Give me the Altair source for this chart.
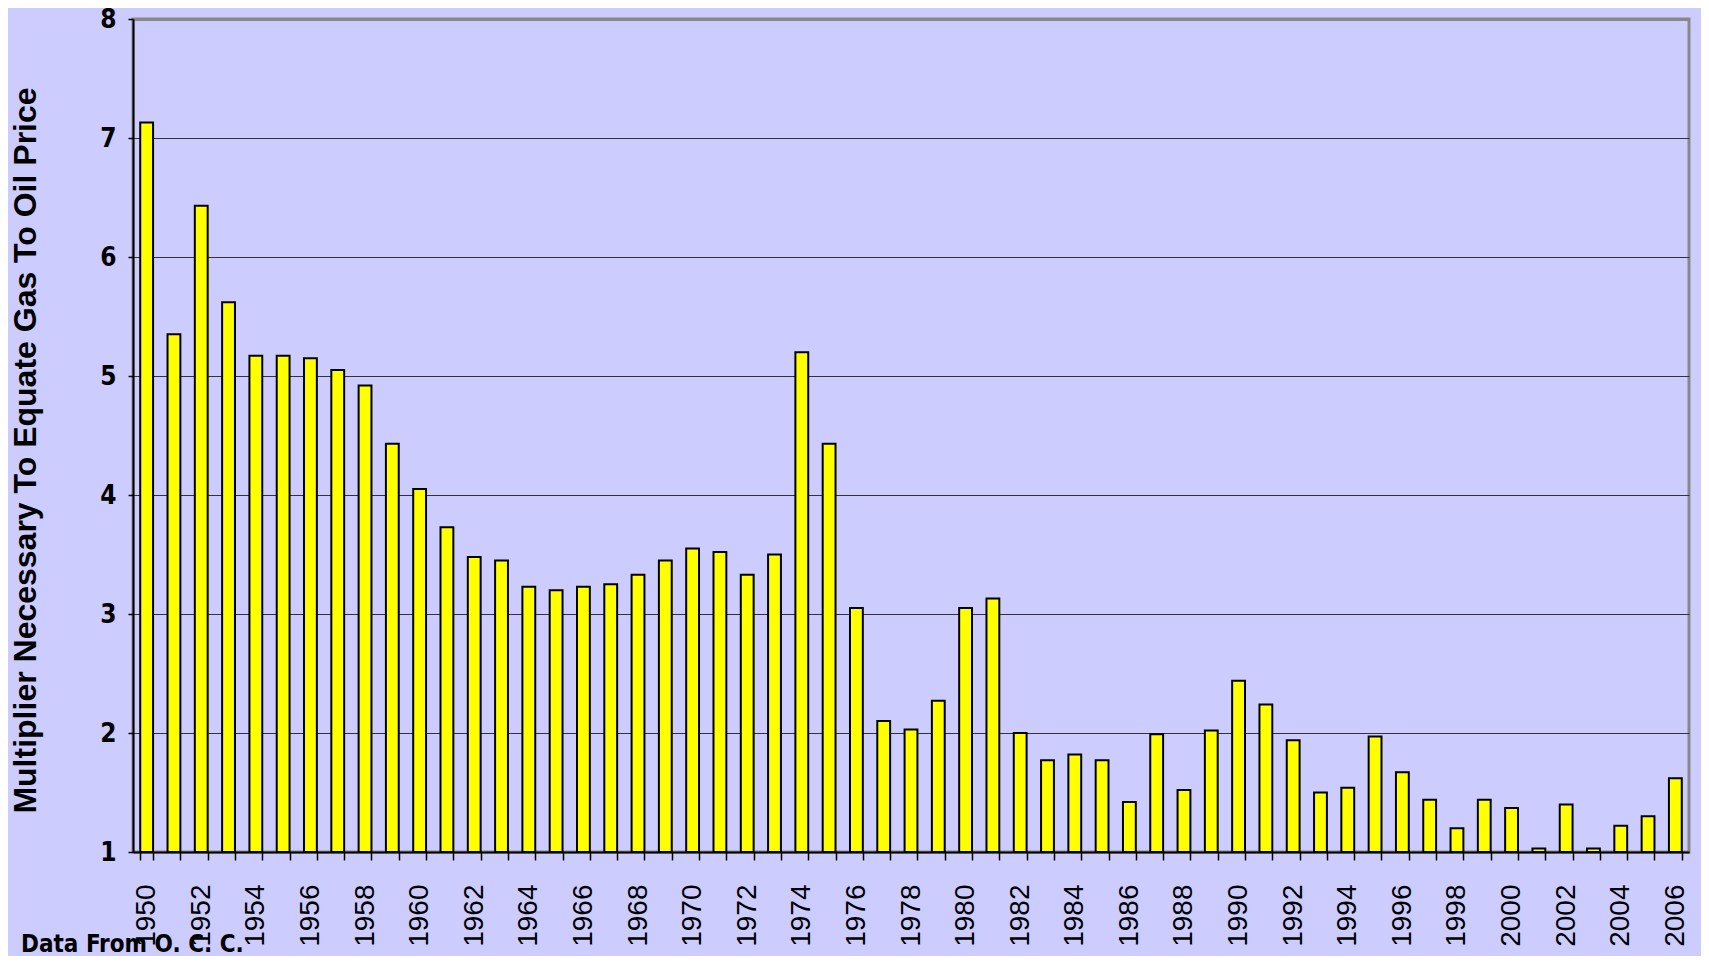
import altair as alt
import pandas as pd

years = list(range(1950, 2007))
multiplier = [
    7.13, 5.35, 6.43, 5.62, 5.17, 5.17, 5.15, 5.05, 4.92, 4.43,
    4.05, 3.73, 3.48, 3.45, 3.23, 3.20, 3.23, 3.25, 3.33, 3.45,
    3.55, 3.52, 3.33, 3.50, 5.20, 4.43, 3.05, 2.10, 2.03, 2.27,
    3.05, 3.13, 2.00, 1.77, 1.82, 1.77, 1.42, 1.99, 1.52, 2.02,
    2.44, 2.24, 1.94, 1.50, 1.54, 1.97, 1.67, 1.44, 1.20, 1.44,
    1.37, 1.03, 1.40, 1.03, 1.22, 1.30, 1.62,
]
y_ticks = [1, 2, 3, 4, 5, 6, 7, 8]
y_title = "Multiplier Necessary To Equate Gas To Oil Price"
footer = "Data From O. C. C."

df = pd.DataFrame({"year": years, "value": multiplier})

NARROW = "Liberation Sans Narrow, Arial Narrow, DejaVu Sans Condensed, sans-serif"
SANS = "Liberation Sans, Arial, sans-serif"

bars = alt.Chart(df).mark_bar(
    fill="#FFFF00", stroke="#000000", strokeWidth=2
).encode(
    x=alt.X(
        "year:O",
        scale=alt.Scale(paddingInner=0.53, paddingOuter=0.265),
        axis=alt.Axis(
            title=None,
            labelAngle=-90,
            labelExpr="datum.value % 2 == 0 ? datum.label : ''",
            labelFont=SANS,
            labelFontSize=28,
            labelFontWeight="normal",
            labelColor="#000000",
            labelPadding=24,
            labelOverlap=False,
            tickBand="extent",
            tickSize=8,
            tickColor="#000000",
            tickWidth=1.5,
            domainColor="#000000",
            domainWidth=2,
            grid=False,
        ),
    ),
    y=alt.Y(
        "value:Q",
        scale=alt.Scale(domain=[1, 8], zero=False, nice=False),
        axis=alt.Axis(
            title=y_title,
            titleFont=SANS,
            titleFontSize=32,
            titleFontWeight="bold",
            titleColor="#000000",
            titleAngle=-90,
            titleX=-108,
            titleY=431,
            titleAlign="center",
            titleBaseline="middle",
            values=y_ticks,
            format="d",
            labelFont=NARROW,
            labelFontSize=26,
            labelFontWeight="bold",
            labelColor="#000000",
            labelPadding=12,
            tickSize=5,
            tickColor="#000000",
            tickWidth=1.5,
            domainColor="#000000",
            domainWidth=2,
            grid=True,
            gridColor={"condition": {"test": "datum.value === 8", "value": "#888888"}, "value": "#333333"},
            gridWidth={"condition": {"test": "datum.value === 8", "value": 3}, "value": 1.2},
        ),
    ),
    y2=alt.datum(1),
)

note = alt.Chart(pd.DataFrame({"t": [footer]})).mark_text(
    font=NARROW, fontSize=24, fontWeight="bold", color="#000000",
    align="left", baseline="alphabetic",
).encode(
    text="t:N",
    x=alt.value(-112),
    y=alt.value(933),
)

chart = alt.layer(bars, note).properties(
    width=1556,
    height=833,
    background="#CCCCFF",
    autosize=alt.AutoSizeParams(type="none"),
    padding={"left": 125, "top": 11, "right": 12, "bottom": 104},
).configure_view(
    stroke="#888888",
    strokeWidth=3,
    fill="#CCCCFF",
)

chart.save("out.html", embed_options={"renderer": "svg", "actions": False})
